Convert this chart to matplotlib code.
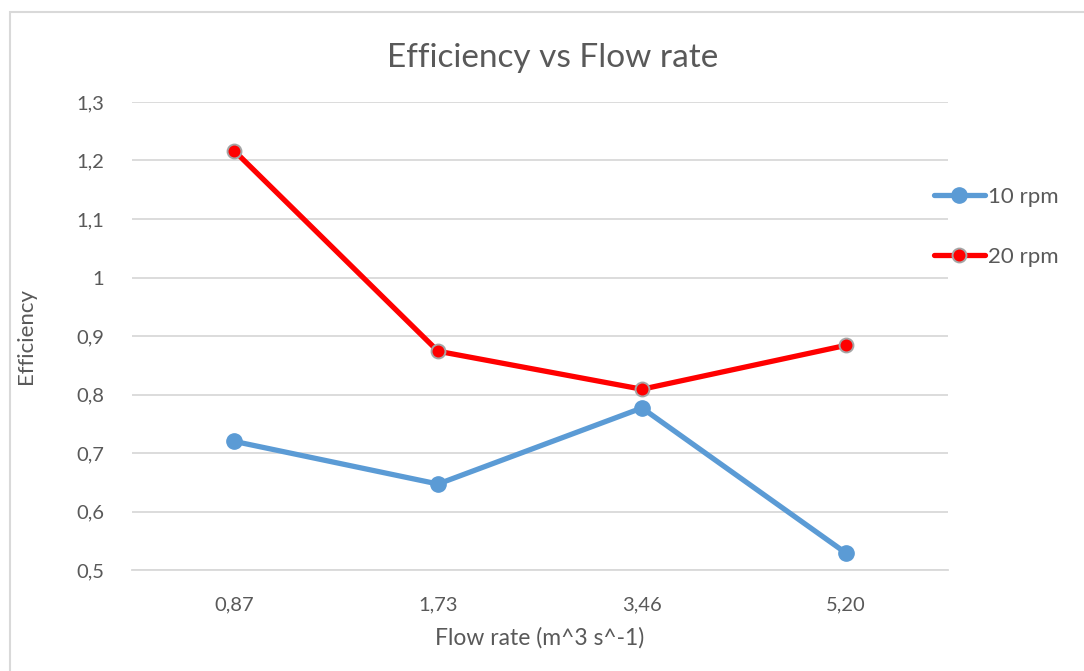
import matplotlib.pyplot as plt
from matplotlib.patches import Rectangle

plt.rcParams['font.family'] = ['Lato', 'DejaVu Sans']

flow_labels = ['0,87', '1,73', '3,46', '5,20']
eff_10rpm = [0.72, 0.647, 0.777, 0.529]
eff_20rpm = [1.217, 0.874, 0.809, 0.884]
y_ticks = [0.5, 0.6, 0.7, 0.8, 0.9, 1.0, 1.1, 1.2, 1.3]
y_tick_labels = ['0,5', '0,6', '0,7', '0,8', '0,9', '1', '1,1', '1,2', '1,3']

txt = '#595959'
grid = '#d9d9d9'

fig = plt.figure(figsize=(10.84, 6.71), dpi=100)
ax = fig.add_axes([0.1218, 0.1505, 0.7527, 0.6975])

# chart border like excel
fig.patches.append(Rectangle((10 / 1084, -0.1), 1.2, 1 - 12 / 671 + 0.1,
                             transform=fig.transFigure, fill=False,
                             edgecolor=grid, lw=1.5))

x = range(len(flow_labels))
ax.plot(x, eff_10rpm, color='#5b9bd5', lw=3.8, marker='o', ms=11,
        mec='#5b9bd5', mfc='#5b9bd5', label='10 rpm', solid_capstyle='round')
ax.plot(x, eff_20rpm, color='#ff0000', lw=3.8, marker='o', ms=10,
        mec='#a5a5a5', mew=1.4, mfc='#ff0000', label='20 rpm', solid_capstyle='round')

ax.set_xlim(-0.5, 3.5)
ax.set_ylim(0.5, 1.3)
ax.set_xticks(list(x))
ax.set_xticklabels(flow_labels)
ax.set_yticks(y_ticks)
ax.set_yticklabels(y_tick_labels)
ax.tick_params(length=0, labelsize=14.5, colors=txt)
ax.tick_params(axis='y', pad=20)
ax.tick_params(axis='x', pad=19)

ax.grid(axis='y', color=grid, lw=1.3)
ax.set_axisbelow(True)
for s in ['top', 'right', 'left']:
    ax.spines[s].set_visible(False)
ax.spines['bottom'].set_color(grid)
ax.spines['bottom'].set_linewidth(1.3)

fig.text(553 / 1084, 1 - 58 / 671, 'Efficiency vs Flow rate', fontsize=24, color=txt,
         ha='center', va='center')
ax.set_xlabel('Flow rate (m^3 s^-1)', fontsize=16.5, color=txt, labelpad=10)
ax.set_ylabel('Efficiency', fontsize=16, color=txt, labelpad=29)

leg = ax.legend(loc='upper left', bbox_to_anchor=(0.853, 0.735), bbox_transform=fig.transFigure,
                frameon=False, fontsize=16, labelspacing=1.8, handlelength=2.3,
                handletextpad=0.15, borderaxespad=0)
for t in leg.get_texts():
    t.set_color(txt)

fig.savefig('out.png', dpi=100)
